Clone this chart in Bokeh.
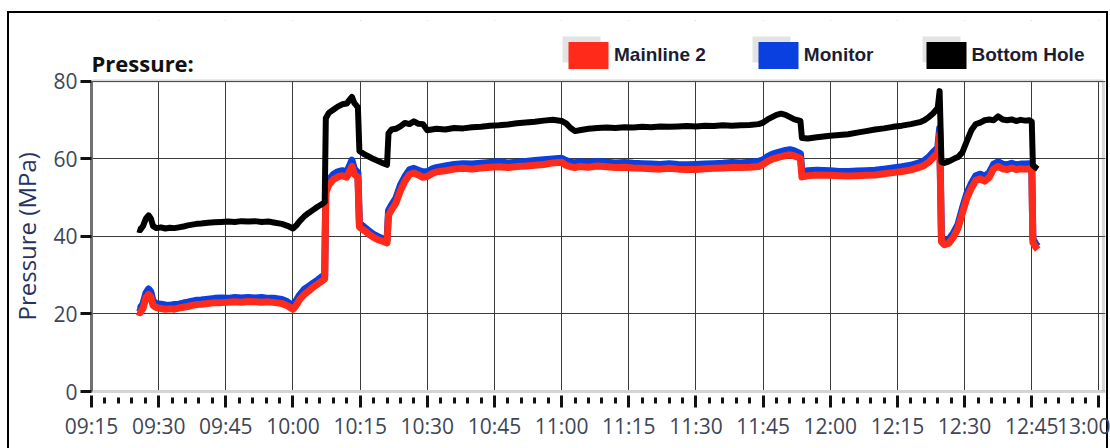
import pandas as pd
from bokeh.plotting import figure
from bokeh.models import (ColumnDataSource, Range1d, FixedTicker, DatetimeTickFormatter,
                          Legend, LegendItem, BoxAnnotation, Label, Title)
from bokeh.embed import file_html
from bokeh.resources import INLINE

DAY = "2021-06-15 "

# Sample times (HH:MM:SS) shared by the three gauges
times = [
    "09:25:15", "09:25:50", "09:26:30", "09:27:10", "09:27:45", "09:28:15", "09:28:45", "09:29:30",
    "09:30:30", "09:31:30", "09:32:30", "09:33:30", "09:34:30", "09:35:30", "09:36:30", "09:37:30",
    "09:38:30", "09:39:30", "09:41:00", "09:42:30", "09:44:00", "09:45:30", "09:47:00", "09:48:30",
    "09:50:00", "09:51:30", "09:53:00", "09:54:30", "09:56:00", "09:57:30", "09:58:45", "10:00:00",
    "10:00:40", "10:01:30", "10:02:30", "10:03:30", "10:04:30", "10:05:30", "10:06:30", "10:07:05",
    "10:07:20", "10:08:00", "10:09:00", "10:10:00", "10:11:00", "10:12:00", "10:12:40", "10:13:10",
    "10:13:40", "10:14:30", "10:14:50", "10:16:00", "10:17:00", "10:18:00", "10:19:00", "10:20:00",
    "10:21:00", "10:21:20", "10:22:00", "10:23:00", "10:24:00", "10:25:00", "10:26:00", "10:27:00",
    "10:28:00", "10:29:00", "10:30:00", "10:31:00", "10:32:00", "10:34:00", "10:36:00", "10:38:00",
    "10:40:00", "10:42:00", "10:44:00", "10:46:00", "10:48:00", "10:50:00", "10:52:00", "10:54:00",
    "10:56:00", "10:58:00", "11:00:00", "11:01:00", "11:02:00", "11:03:00", "11:04:00", "11:06:00",
    "11:08:00", "11:10:00", "11:12:00", "11:14:00", "11:16:00", "11:18:00", "11:20:00", "11:22:00",
    "11:24:00", "11:26:00", "11:28:00", "11:30:00", "11:32:00", "11:34:00", "11:36:00", "11:38:00",
    "11:40:00", "11:42:00", "11:44:00", "11:45:00", "11:46:00", "11:47:00", "11:48:00", "11:49:00",
    "11:50:00", "11:51:00", "11:52:00", "11:53:20", "11:53:40", "11:55:00", "11:57:00", "12:00:00",
    "12:02:00", "12:04:00", "12:06:00", "12:08:00", "12:10:00", "12:12:00", "12:14:00", "12:16:00",
    "12:18:00", "12:20:00", "12:21:00", "12:22:00", "12:23:00", "12:24:00", "12:24:25", "12:24:50",
    "12:25:30", "12:26:30", "12:27:30", "12:28:30", "12:29:30", "12:30:30", "12:31:30", "12:32:30",
    "12:33:30", "12:34:30", "12:35:30", "12:36:30", "12:37:30", "12:38:30", "12:39:30", "12:40:30",
    "12:41:30", "12:42:30", "12:43:30", "12:44:30", "12:45:00", "12:45:15", "12:45:50", "12:46:20",
]

# Bottom hole pressure, MPa
bottom_hole = [
    41.8, 41.6, 42.6, 44.6, 45.4, 44.6, 42.6, 42.1,
    42.3, 42.0, 42.2, 42.1, 42.3, 42.5, 42.8, 43.0,
    43.2, 43.3, 43.5, 43.6, 43.7, 43.8, 43.7, 43.9,
    43.8, 43.9, 43.7, 43.8, 43.5, 43.2, 42.7, 42.0,
    42.7, 43.9, 45.1, 46.0, 46.8, 47.6, 48.3, 48.8,
    70.4, 71.8, 72.6, 73.4, 74.0, 74.2, 75.2, 75.9,
    74.4, 73.2, 62.0, 61.1, 60.5, 59.9, 59.4, 58.9,
    58.4, 66.5, 67.5, 67.7, 68.3, 69.2, 68.9, 69.6,
    69.0, 68.9, 67.3, 67.5, 67.7, 67.5, 67.9, 67.8,
    68.1, 68.2, 68.5, 68.6, 68.8, 69.1, 69.3, 69.5,
    69.8, 70.0, 69.7, 69.1, 67.9, 67.1, 67.3, 67.7,
    67.9, 68.0, 67.9, 68.1, 68.0, 68.2, 68.1, 68.3,
    68.2, 68.3, 68.4, 68.3, 68.5, 68.4, 68.6, 68.5,
    68.6, 68.7, 68.9, 69.3, 70.1, 70.7, 71.3, 71.6,
    71.3, 70.7, 70.1, 69.7, 65.3, 65.2, 65.5, 65.9,
    66.1, 66.3, 66.7, 67.1, 67.5, 67.8, 68.2, 68.5,
    68.9, 69.4, 69.9, 70.7, 71.7, 73.1, 77.4, 59.1,
    58.9, 59.3, 59.9, 60.4, 61.6, 64.5, 67.3, 68.9,
    69.3, 69.9, 70.1, 69.9, 70.9, 70.1, 69.9, 70.1,
    69.7, 70.0, 69.8, 69.9, 69.5, 58.3, 57.7, 57.3,
]

# Mainline 2 pressure, MPa
mainline_2 = [
    20.6, 20.3, 21.4, 24.2, 25.0, 24.4, 22.2, 21.6,
    21.4, 21.2, 21.3, 21.2, 21.5, 21.7, 21.9, 22.2,
    22.4, 22.5, 22.7, 22.9, 22.9, 23.0, 23.1, 23.0,
    23.2, 23.1, 23.0, 23.1, 22.9, 22.7, 22.1, 21.2,
    22.1, 23.7, 25.0, 25.9, 26.9, 27.7, 28.5, 29.0,
    51.2, 53.2, 54.6, 55.3, 55.6, 55.2, 56.8, 58.0,
    56.0, 55.2, 42.4, 41.4, 40.5, 39.7, 39.1, 38.7,
    38.3, 45.4, 46.8, 48.6, 51.8, 54.2, 55.9, 56.3,
    55.8, 55.2, 55.4, 56.1, 56.6, 56.9, 57.3, 57.5,
    57.3, 57.6, 57.8, 57.9, 57.7, 58.0, 58.1, 58.3,
    58.5, 58.9, 59.1, 58.3, 57.9, 57.7, 58.0, 57.8,
    58.1, 57.9, 57.7, 57.8, 57.6, 57.5, 57.4, 57.3,
    57.5, 57.3, 57.2, 57.2, 57.4, 57.5, 57.6, 57.7,
    57.7, 57.8, 58.0, 58.5, 59.3, 59.9, 60.2, 60.5,
    60.8, 61.0, 60.7, 60.1, 55.3, 55.6, 55.8, 55.7,
    55.6, 55.5, 55.6, 55.7, 55.8, 56.1, 56.4, 56.7,
    57.1, 57.8, 58.3, 59.1, 60.3, 61.5, 66.2, 38.6,
    37.8, 38.2, 39.8, 42.0, 46.0, 49.8, 52.4, 54.4,
    54.8, 54.2, 55.2, 57.4, 58.0, 57.4, 57.2, 57.6,
    57.2, 57.4, 57.3, 57.4, 57.2, 38.4, 37.3, 36.6,
]

# Monitor pressure, MPa
monitor = [
    21.6, 21.4, 22.6, 25.4, 26.4, 25.7, 23.3, 22.6,
    22.5, 22.3, 22.2, 22.4, 22.5, 22.8, 23.0, 23.3,
    23.5, 23.6, 23.8, 24.0, 24.1, 24.0, 24.2, 24.1,
    24.2, 24.1, 24.2, 24.0, 24.0, 23.7, 23.1, 22.2,
    23.3, 24.9, 26.3, 27.1, 27.9, 28.7, 29.6, 30.0,
    52.4, 54.5, 55.9, 56.6, 56.9, 56.6, 58.2, 59.6,
    57.4, 56.4, 43.4, 42.3, 41.3, 40.5, 39.9, 39.4,
    38.9, 46.6, 48.0, 49.8, 53.2, 55.4, 57.1, 57.5,
    57.0, 56.6, 56.6, 57.3, 57.7, 58.1, 58.5, 58.7,
    58.6, 58.8, 59.0, 59.2, 58.9, 59.1, 59.3, 59.5,
    59.7, 59.9, 60.1, 59.5, 59.1, 58.9, 59.2, 59.0,
    59.3, 59.1, 58.9, 59.0, 58.8, 58.7, 58.6, 58.5,
    58.7, 58.5, 58.4, 58.5, 58.6, 58.7, 58.8, 59.0,
    58.9, 59.1, 59.3, 59.7, 60.5, 61.1, 61.5, 61.8,
    62.1, 62.3, 62.0, 61.3, 56.5, 56.9, 57.0, 56.9,
    56.7, 56.7, 56.8, 56.9, 57.0, 57.3, 57.6, 57.9,
    58.3, 59.0, 59.5, 60.4, 61.7, 62.8, 67.8, 39.6,
    38.7, 39.2, 40.8, 43.0, 47.2, 51.0, 53.6, 55.6,
    56.0, 55.4, 56.4, 58.6, 59.2, 58.6, 58.4, 58.8,
    58.4, 58.6, 58.6, 58.7, 58.4, 39.4, 38.1, 37.4,
]

# Axis ticks
time_ticks = ["09:15", "09:30", "09:45", "10:00", "10:15", "10:30", "10:45", "11:00",
              "11:15", "11:30", "11:45", "12:00", "12:15", "12:30", "12:45", "13:00"]
pressure_ticks = [0, 20, 40, 60, 80]
p_min, p_max = 0, 80

series_names = ["Mainline 2", "Monitor", "Bottom Hole"]
series_colors = ["#ff2a1a", "#0a3fe0", "#000000"]

t = pd.to_datetime([DAY + s for s in times])
src = ColumnDataSource(dict(t=t, bottom_hole=bottom_hole, mainline_2=mainline_2, monitor=monitor))

x_start = pd.Timestamp(DAY + "09:15:00")
x_edge = pd.Timestamp(DAY + "13:01:00")     # right edge of the plotting box
x_end = pd.Timestamp(DAY + "13:01:28")

# Outer panel frame, drawn on the page behind the canvas border
panel_style = {
    "background-color": "white",
    "background-image": ", ".join(["linear-gradient(#000, #000)"] * 3),
    "background-position": "7px 11px, 7px 11px, 1106px 11px",
    "background-size": "2px 480px, 1101px 2px, 2px 480px",
    "background-repeat": "no-repeat",
}

# The frame reaches up into the header so the legend can sit there unclipped
p = figure(width=1110, height=448, x_axis_type="datetime",
           x_range=Range1d(x_start, x_end), y_range=Range1d(p_min, 95.6),
           output_backend="svg", toolbar_location=None,
           min_border_left=90, min_border_right=5, min_border_top=20, min_border_bottom=57,
           background_fill_color="white", border_fill_color=None,
           outline_line_color=None, styles=panel_style)

# Traces
r_mon = p.line("t", "monitor", source=src, line_color=series_colors[1], line_width=7, line_join="round")
r_main = p.line("t", "mainline_2", source=src, line_color=series_colors[0], line_width=7, line_join="round")
r_bh = p.line("t", "bottom_hole", source=src, line_color=series_colors[2], line_width=6, line_join="round")

# X axis
major_ms = [pd.Timestamp(DAY + s + ":00").value // 10**6 for s in time_ticks]
minor_ms = [pd.Timestamp(x).value // 10**6 for x in pd.date_range(DAY + "09:15", DAY + "13:00", freq="3min")]
xax = p.xaxis[0]
xax.ticker = FixedTicker(ticks=major_ms, minor_ticks=minor_ms)
xax.formatter = DatetimeTickFormatter(minsec="%H:%M", minutes="%H:%M", hourmin="%H:%M", hours="%H:%M")
xax.axis_line_color = "#d4d4d4"
xax.axis_line_width = 3
xax.major_tick_line_color = "#111111"
xax.major_tick_line_width = 3
xax.major_tick_in = -4
xax.major_tick_out = 16
xax.minor_tick_line_color = "#111111"
xax.minor_tick_line_width = 3
xax.minor_tick_in = -6
xax.minor_tick_out = 12
xax.major_label_standoff = 4
xax.major_label_text_font = "Open Sans"
xax.major_label_text_font_size = "21px"
xax.major_label_text_color = "#3d4658"

# Y axis, limited to the 0-80 MPa box
yax = p.yaxis[0]
yax.bounds = (p_min, p_max)
yax.ticker = FixedTicker(ticks=pressure_ticks)
yax.axis_line_color = "#707070"
yax.axis_line_width = 3
yax.major_tick_line_color = "#111111"
yax.major_tick_line_width = 3
yax.major_tick_in = 0
yax.major_tick_out = 11
yax.minor_tick_line_color = None
yax.major_label_standoff = 3
yax.major_label_text_font = "Open Sans"
yax.major_label_text_font_size = "21px"
yax.major_label_text_color = "#3d4658"

# Y axis title, placed along the 0-80 MPa box rather than the taller frame
p.add_layout(Title(text="Pressure (MPa)", align="left", offset=71, standoff=15,
                   text_font="Open Sans", text_font_style="normal", text_font_size="24px",
                   text_color="#27325f"), "left")

# Grid
p.xgrid.ticker = FixedTicker(ticks=major_ms)
p.ygrid.ticker = FixedTicker(ticks=pressure_ticks)
for g in (p.xgrid[0], p.ygrid[0]):
    g.grid_line_color = "#3a3a3a"
    g.grid_line_width = 1

# Blank header above the plotting box
p.add_layout(BoxAnnotation(bottom=p_max, fill_color="white", fill_alpha=1, line_alpha=0))

# Top and right edges of the plotting box
p.add_layout(BoxAnnotation(left=x_start, right=x_edge, bottom=p_max, top=p_max,
                           fill_alpha=0, line_color="#7a7a7a", line_width=3))
p.add_layout(BoxAnnotation(left=x_edge, right=x_edge, bottom=p_min, top=p_max,
                           fill_alpha=0, line_color="#7a7a7a", line_width=3))

# Chart title
p.add_layout(Label(x=91, y=62, x_units="canvas", y_units="canvas", text="Pressure:",
                   text_font="Open Sans", text_font_style="bold", text_font_size="22px",
                   text_color="#111111", text_baseline="middle", text_align="left"))

# Soft bevel behind each legend swatch
for sx in (562, 752, 922):
    p.add_layout(BoxAnnotation(left=sx, right=sx + 38, top=36, bottom=62,
                               left_units="canvas", right_units="canvas",
                               top_units="canvas", bottom_units="canvas",
                               fill_color="#e3e3e3", fill_alpha=1, line_alpha=0))

# Legend swatches (placeholder renderers with no visible points)
nan = float("nan")
swatches = []
for name, color in zip(series_names, series_colors):
    q = p.quad(left=[nan], right=[nan], top=[nan], bottom=[nan], fill_color=color, line_alpha=0)
    swatches.append(LegendItem(label=name, renderers=[q]))

legend = Legend(items=swatches, orientation="horizontal", location=(472, 319),
                glyph_width=50, glyph_height=34, label_standoff=1, spacing=47,
                padding=0, margin=0, border_line_color=None, background_fill_alpha=0,
                label_text_font="Liberation Sans", label_text_font_style="bold",
                label_text_font_size="19px", label_text_color="#1a1d33")
p.add_layout(legend, "center")

open("out.html", "w").write(file_html(p, INLINE))
